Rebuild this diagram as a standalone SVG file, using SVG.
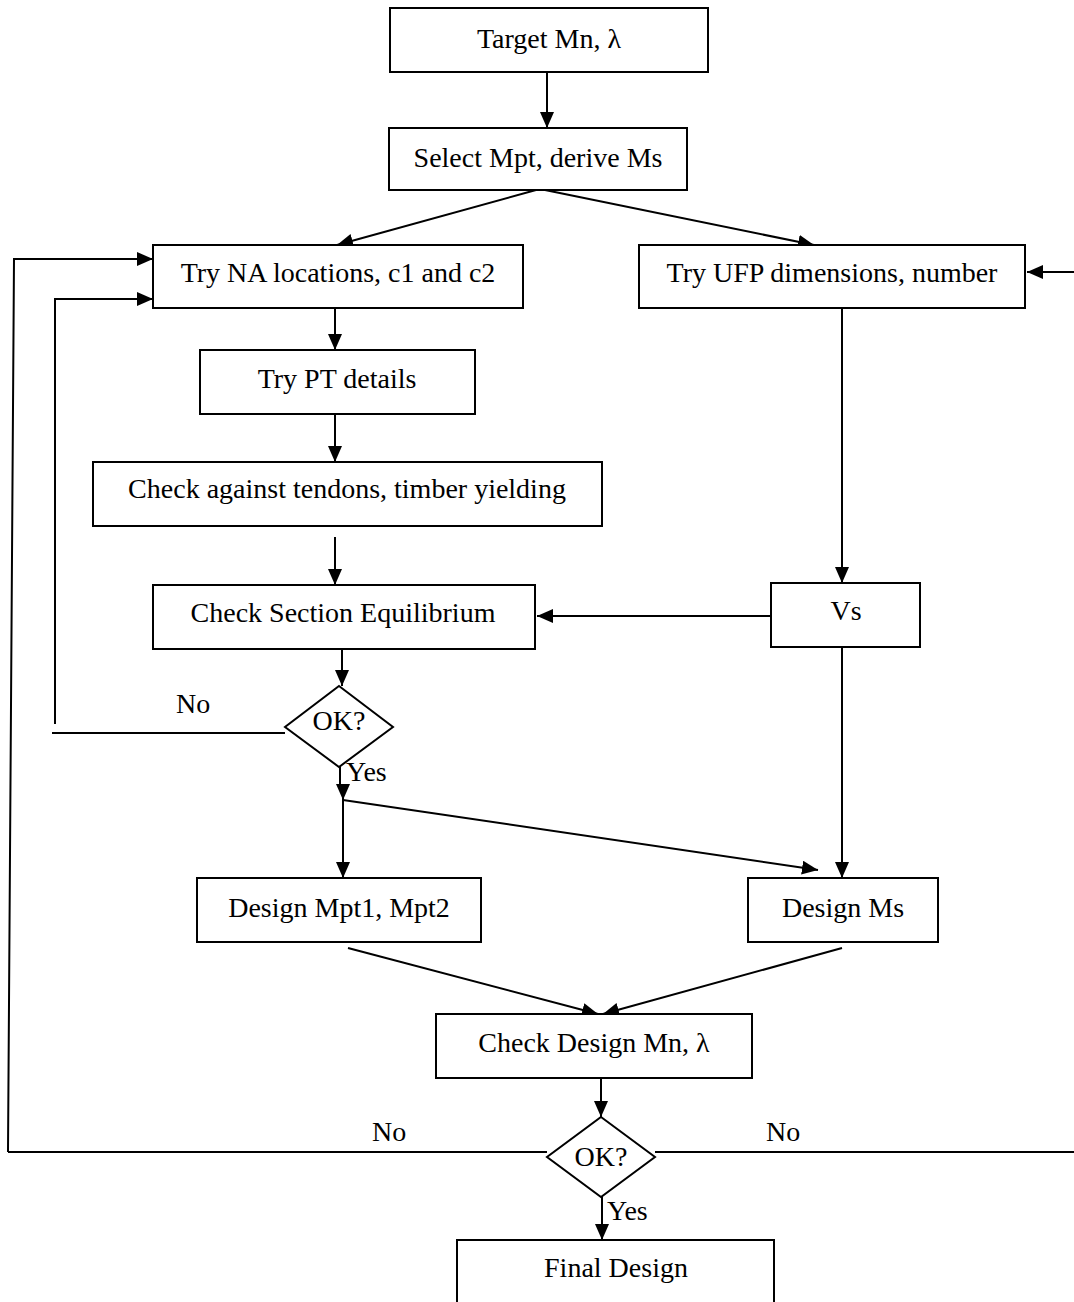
<svg xmlns="http://www.w3.org/2000/svg" width="1074" height="1302" viewBox="0 0 1074 1302">
  <style>
    .box { fill: #fff; stroke: #000; stroke-width: 2; }
    .lbl { font-family: "Liberation Serif", "Times New Roman", serif; font-size: 28px; fill: #000; text-anchor: middle; }
    .tag { font-family: "Liberation Serif", "Times New Roman", serif; font-size: 28px; fill: #000; }
    .ln { fill: none; stroke: #000; stroke-width: 2; }
    .arr { fill: none; stroke: #000; stroke-width: 2; marker-end: url(#head); }
  </style>
  <defs>
    <marker id="head" viewBox="0 0 16 14" refX="16" refY="7" markerWidth="16" markerHeight="14" markerUnits="userSpaceOnUse" orient="auto">
      <path d="M0,0 L16,7 L0,14 Z" fill="#000"/>
    </marker>
  </defs>
  <rect width="1074" height="1302" fill="#fff"/>

  <g id="connectors">
    <line class="arr" x1="547" y1="72" x2="547" y2="128"/>
    <line class="arr" x1="536" y1="190" x2="337" y2="245"/>
    <line class="arr" x1="545" y1="190" x2="814" y2="245"/>
    <line class="arr" x1="1074" y1="272" x2="1027" y2="272"/>
    <line class="arr" x1="335" y1="308" x2="335" y2="350"/>
    <line class="arr" x1="335" y1="414" x2="335" y2="462"/>
    <line class="arr" x1="335" y1="537" x2="335" y2="585"/>
    <line class="arr" x1="342" y1="649" x2="342" y2="686"/>
    <line class="arr" x1="842" y1="308" x2="842" y2="583"/>
    <line class="arr" x1="780" y1="616" x2="537" y2="616"/>
    <line class="arr" x1="842" y1="647" x2="842" y2="878"/>
    <!-- inner loop back from first OK? -->
    <line class="ln" x1="52" y1="733" x2="285" y2="733"/>
    <polyline class="arr" points="55,724 55,299 153,299"/>
    <!-- outer loop back from second OK? -->
    <line class="ln" x1="8" y1="1152" x2="547" y2="1152"/>
    <polyline class="arr" points="8,1152 14,259 153,259"/>
    <line class="ln" x1="655" y1="1152" x2="1074" y2="1152"/>
    <!-- Yes branch -->
    <line class="ln" x1="340" y1="760" x2="340" y2="784"/>
    <line class="arr" x1="343" y1="784" x2="343" y2="800"/>
    <line class="arr" x1="343" y1="800" x2="343" y2="878"/>
    <line class="arr" x1="343" y1="800" x2="818" y2="870"/>
    <line class="arr" x1="348" y1="948" x2="598" y2="1014"/>
    <line class="arr" x1="842" y1="948" x2="603" y2="1014"/>
    <line class="arr" x1="601" y1="1078" x2="601" y2="1117"/>
    <line class="arr" x1="602" y1="1197" x2="602" y2="1240"/>
  </g>

  <g id="target">
    <rect class="box" x="390" y="8" width="318" height="64"/>
    <text class="lbl" x="549" y="48">Target Mn, λ</text>
  </g>
  <g id="select">
    <rect class="box" x="389" y="128" width="298" height="62"/>
    <text class="lbl" x="538" y="167">Select Mpt, derive Ms</text>
  </g>
  <g id="na">
    <rect class="box" x="153" y="245" width="370" height="63"/>
    <text class="lbl" x="338" y="282">Try NA locations, c1 and c2</text>
  </g>
  <g id="ufp">
    <rect class="box" x="639" y="245" width="386" height="63"/>
    <text class="lbl" x="832" y="282">Try UFP dimensions, number</text>
  </g>
  <g id="pt">
    <rect class="box" x="200" y="350" width="275" height="64"/>
    <text class="lbl" x="337" y="388">Try PT details</text>
  </g>
  <g id="tendons">
    <rect class="box" x="93" y="462" width="509" height="64"/>
    <text class="lbl" x="347" y="498">Check against tendons, timber yielding</text>
  </g>
  <g id="equilibrium">
    <rect class="box" x="153" y="585" width="382" height="64"/>
    <text class="lbl" x="343" y="622">Check Section Equilibrium</text>
  </g>
  <g id="vs">
    <rect class="box" x="771" y="583" width="149" height="64"/>
    <text class="lbl" x="846" y="620">Vs</text>
  </g>
  <g id="ok1">
    <polygon class="box" points="339,686 393,727 339,767 285,727"/>
    <text class="lbl" x="339" y="730">OK?</text>
    <text class="tag" x="176" y="713">No</text>
    <text class="tag" x="346" y="781">Yes</text>
  </g>
  <g id="mpt">
    <rect class="box" x="197" y="878" width="284" height="64"/>
    <text class="lbl" x="339" y="917">Design Mpt1, Mpt2</text>
  </g>
  <g id="ms">
    <rect class="box" x="748" y="878" width="190" height="64"/>
    <text class="lbl" x="843" y="917">Design Ms</text>
  </g>
  <g id="check">
    <rect class="box" x="436" y="1014" width="316" height="64"/>
    <text class="lbl" x="594" y="1052">Check Design Mn, λ</text>
  </g>
  <g id="ok2">
    <polygon class="box" points="601,1117 655,1157 601,1197 547,1157"/>
    <text class="lbl" x="601" y="1166">OK?</text>
    <text class="tag" x="372" y="1141">No</text>
    <text class="tag" x="766" y="1141">No</text>
    <text class="tag" x="607" y="1220">Yes</text>
  </g>
  <g id="final">
    <rect class="box" x="457" y="1240" width="317" height="80"/>
    <text class="lbl" x="616" y="1277">Final Design</text>
  </g>
</svg>
